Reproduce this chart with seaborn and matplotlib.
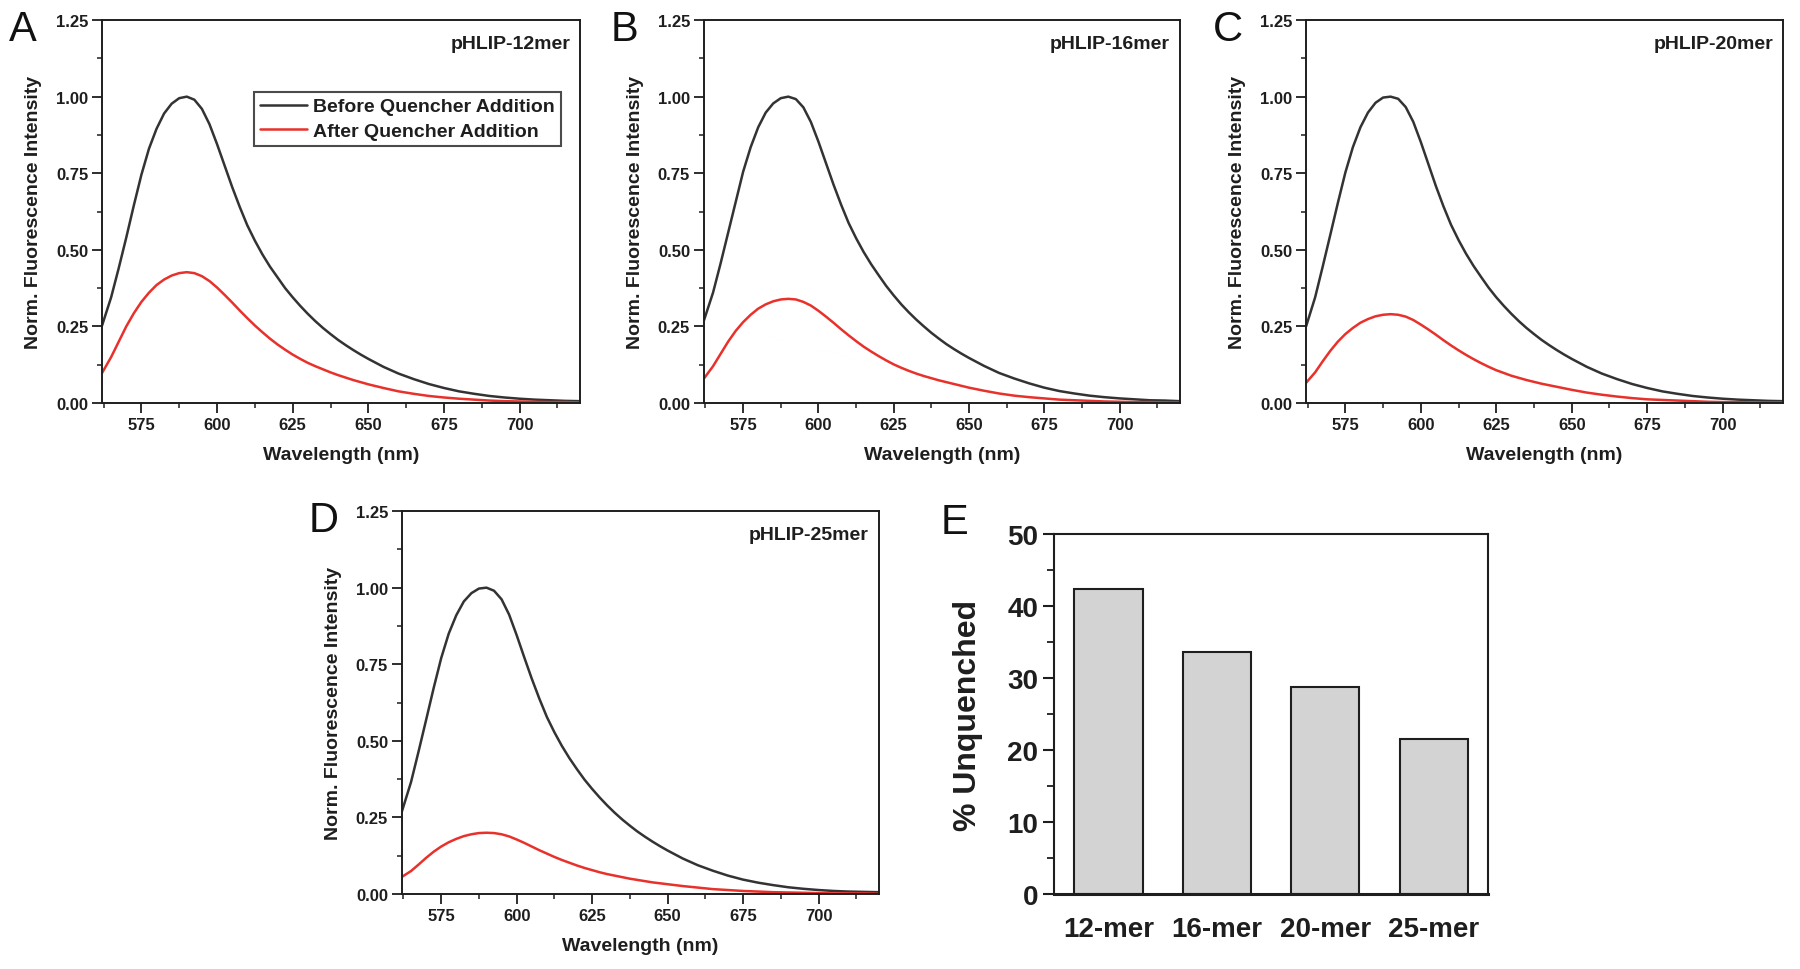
import matplotlib
matplotlib.use("Agg")
import matplotlib.pyplot as plt
import pandas as pd
import seaborn as sns
from matplotlib.ticker import MultipleLocator

wavelength = [562, 565, 567.5, 570, 572.5, 575, 577.5, 580, 582.5, 585, 587.5, 590,
              592.5, 595, 597.5, 600, 602.5, 605, 607.5, 610, 612.5, 615, 617.5, 620,
              622.5, 625, 627.5, 630, 632.5, 635, 637.5, 640, 642.5, 645, 647.5, 650,
              655, 660, 665, 670, 675, 680, 685, 690, 695, 700, 705, 710, 715, 720]

before_12 = [0.253, 0.345, 0.44, 0.54, 0.645, 0.745, 0.83, 0.895, 0.945, 0.977, 0.995, 1.00,
             0.99, 0.96, 0.91, 0.845, 0.775, 0.705, 0.64, 0.58, 0.53, 0.485, 0.445, 0.41,
             0.375, 0.345, 0.317, 0.291, 0.267, 0.245, 0.225, 0.206, 0.189, 0.173, 0.158, 0.144,
             0.118, 0.096, 0.078, 0.062, 0.049, 0.038, 0.03, 0.023, 0.018, 0.014, 0.011, 0.009,
             0.007, 0.006]
after_12 = [0.098, 0.15, 0.2, 0.25, 0.293, 0.33, 0.36, 0.385, 0.403, 0.416, 0.424, 0.427,
            0.424, 0.414, 0.398, 0.377, 0.353, 0.328, 0.302, 0.277, 0.253, 0.231, 0.21, 0.191,
            0.174, 0.158, 0.144, 0.131, 0.12, 0.11, 0.1, 0.091, 0.083, 0.075, 0.068, 0.061,
            0.049, 0.038, 0.03, 0.023, 0.018, 0.014, 0.011, 0.008, 0.006, 0.005, 0.004, 0.003,
            0.003, 0.002]

before_16 = [0.27, 0.36, 0.455, 0.555, 0.655, 0.755, 0.835, 0.9, 0.948, 0.978, 0.995, 1.00,
             0.992, 0.965, 0.917, 0.853, 0.783, 0.713, 0.648, 0.588, 0.538, 0.493, 0.453, 0.417,
             0.382, 0.351, 0.322, 0.296, 0.272, 0.25, 0.229, 0.21, 0.192, 0.176, 0.161, 0.147,
             0.121, 0.098, 0.08, 0.064, 0.05, 0.039, 0.031, 0.024, 0.019, 0.015, 0.012, 0.009,
             0.008, 0.006]
after_16 = [0.08, 0.12, 0.16, 0.2, 0.235, 0.264, 0.288, 0.308, 0.322, 0.332, 0.338, 0.34,
            0.338, 0.33, 0.318, 0.301, 0.282, 0.262, 0.241, 0.221, 0.202, 0.184, 0.168, 0.153,
            0.139, 0.126, 0.115, 0.105, 0.096, 0.088, 0.081, 0.074, 0.068, 0.062, 0.056, 0.05,
            0.04, 0.031, 0.024, 0.019, 0.015, 0.011, 0.009, 0.007, 0.005, 0.004, 0.003, 0.003,
            0.002, 0.002]

before_20 = [0.25, 0.345, 0.445, 0.548, 0.652, 0.752, 0.835, 0.9, 0.948, 0.98, 0.997, 1.00,
             0.993, 0.966, 0.918, 0.852, 0.78, 0.708, 0.642, 0.582, 0.532, 0.487, 0.447, 0.411,
             0.376, 0.345, 0.317, 0.291, 0.267, 0.245, 0.225, 0.206, 0.189, 0.173, 0.158, 0.144,
             0.118, 0.096, 0.078, 0.062, 0.049, 0.038, 0.03, 0.023, 0.018, 0.014, 0.011, 0.009,
             0.007, 0.006]
after_20 = [0.066, 0.1, 0.136, 0.17, 0.2, 0.225, 0.245, 0.262, 0.274, 0.283, 0.288, 0.29,
            0.288, 0.282, 0.271, 0.256, 0.24, 0.223, 0.205, 0.188, 0.172, 0.157, 0.143, 0.13,
            0.118, 0.107, 0.098, 0.089, 0.082, 0.075, 0.069, 0.063, 0.058, 0.053, 0.048, 0.043,
            0.034, 0.027, 0.021, 0.016, 0.012, 0.01, 0.008, 0.006, 0.004, 0.003, 0.003, 0.002,
            0.002, 0.002]

before_25 = [0.27, 0.365, 0.465, 0.568, 0.672, 0.77, 0.85, 0.91, 0.955, 0.982, 0.997, 1.00,
             0.99, 0.962, 0.912, 0.845, 0.773, 0.703, 0.638, 0.578, 0.528, 0.483, 0.443, 0.407,
             0.373, 0.343, 0.315, 0.289, 0.265, 0.243, 0.223, 0.204, 0.187, 0.171, 0.156, 0.142,
             0.116, 0.094, 0.076, 0.06, 0.047, 0.037, 0.029, 0.022, 0.017, 0.013, 0.01, 0.008,
             0.007, 0.006]
after_25 = [0.056, 0.075, 0.096, 0.118, 0.138, 0.155, 0.169, 0.18, 0.189, 0.195, 0.199, 0.20,
            0.199, 0.195, 0.188, 0.178, 0.167, 0.155, 0.143, 0.132, 0.121, 0.111, 0.102, 0.093,
            0.085, 0.078, 0.071, 0.065, 0.06, 0.055, 0.05, 0.046, 0.042, 0.038, 0.035, 0.032,
            0.026, 0.021, 0.016, 0.013, 0.01, 0.008, 0.006, 0.005, 0.004, 0.003, 0.002, 0.002,
            0.002, 0.001]

series_names = ["Before Quencher Addition", "After Quencher Addition"]
panel_titles = ["pHLIP-12mer", "pHLIP-16mer", "pHLIP-20mer", "pHLIP-25mer"]
panel_letters = ["A", "B", "C", "D"]
spectra = [(before_12, after_12), (before_16, after_16), (before_20, after_20), (before_25, after_25)]

mer_labels = ["12-mer", "16-mer", "20-mer", "25-mer"]
pct_unquenched = [42.3, 33.6, 28.7, 21.5]

sns.set_theme(style="ticks")
plt.rcParams["font.family"] = ["Liberation Sans", "DejaVu Sans"]
plt.rcParams["font.weight"] = "bold"

fig = plt.figure(figsize=(18, 9.7), dpi=100)

# axes rectangles (figure fractions) for panels A-D
rects = [
    [0.0567, 0.5835, 0.2656, 0.3948],
    [0.3911, 0.5835, 0.2644, 0.3948],
    [0.7256, 0.5835, 0.2650, 0.3948],
    [0.2233, 0.0773, 0.2650, 0.3948],
]
palette = {series_names[0]: "#333333", series_names[1]: "#e8312b"}
ink = "#1e1e1e"

for i, (rect, (bef, aft)) in enumerate(zip(rects, spectra)):
    ax = fig.add_axes(rect)
    df = pd.DataFrame({
        "wavelength": wavelength * 2,
        "intensity": bef + aft,
        "series": [series_names[0]] * len(wavelength) + [series_names[1]] * len(wavelength),
    })
    sns.lineplot(data=df, x="wavelength", y="intensity", hue="series", palette=palette,
                 linewidth=1.8, ax=ax, legend=(i == 0))
    ax.set_xlim(562, 720)
    ax.set_ylim(0, 1.25)
    ax.xaxis.set_minor_locator(MultipleLocator(12.5))
    ax.yaxis.set_minor_locator(MultipleLocator(0.125))
    ax.set_xticks([575, 600, 625, 650, 675, 700])
    ax.set_yticks([0, 0.25, 0.5, 0.75, 1.0, 1.25])
    ax.set_yticklabels(["0.00", "0.25", "0.50", "0.75", "1.00", "1.25"])
    ax.tick_params(axis="both", which="major", direction="out", length=7, width=1.3,
                   labelsize=12, colors=ink, pad=3)
    ax.tick_params(axis="both", which="minor", direction="out", length=3.5, width=1.1, colors=ink)
    for lab in ax.get_xticklabels() + ax.get_yticklabels():
        lab.set_fontweight("bold")
    for sp in ax.spines.values():
        sp.set_visible(True)
        sp.set_linewidth(1.4)
        sp.set_color(ink)
    ax.set_xlabel("Wavelength (nm)", fontsize=14, fontweight="bold", labelpad=10, color=ink)
    ax.set_ylabel("Norm. Fluorescence Intensity", fontsize=14, fontweight="bold", labelpad=10,
                  color=ink)
    ax.text(0.979, 0.94, panel_titles[i], transform=ax.transAxes, ha="right", va="center",
            fontsize=14, fontweight="bold", color=ink)
    if i == 0:
        leg = ax.legend(loc="upper right", bbox_to_anchor=(0.96, 0.812), borderaxespad=0,
                        frameon=True, fancybox=False, fontsize=14, handlelength=2.4,
                        handletextpad=0.35, borderpad=0.3, labelspacing=0.36, title=None)
        leg.get_frame().set_edgecolor(ink)
        leg.get_frame().set_linewidth(1.5)
        for t in leg.get_texts():
            t.set_fontweight("bold")
            t.set_color(ink)
    fig.text(rect[0] - 0.052, rect[1] + rect[3] - 0.021, panel_letters[i], fontsize=30,
             fontweight="normal", ha="left", va="baseline", color="#111111")

# panel E: bar chart of the unquenched fraction
axE = fig.add_axes([0.5856, 0.0773, 0.2411, 0.3711])
bar_df = pd.DataFrame({"mer": mer_labels, "pct": pct_unquenched})
sns.barplot(data=bar_df, x="mer", y="pct", color="#d3d3d3", edgecolor=ink,
            linewidth=1.5, width=0.63, saturation=1, ax=axE)
axE.set_xlim(-0.5, 3.5)
axE.set_ylim(0, 50)
axE.yaxis.set_major_locator(MultipleLocator(10))
axE.yaxis.set_minor_locator(MultipleLocator(5))
axE.tick_params(axis="y", which="major", direction="out", length=8, width=1.5,
                labelsize=20, colors=ink)
axE.tick_params(axis="y", which="minor", direction="out", length=5, width=1.3, colors=ink)
axE.tick_params(axis="x", which="both", length=0, labelsize=20, pad=16, colors=ink)
for lab in axE.get_xticklabels() + axE.get_yticklabels():
    lab.set_fontweight("bold")
for sp in axE.spines.values():
    sp.set_visible(True)
    sp.set_linewidth(1.5)
    sp.set_color(ink)
axE.spines["bottom"].set_linewidth(2.2)
axE.set_xlabel("")
axE.set_ylabel("% Unquenched", fontsize=23, fontweight="bold", labelpad=17, color=ink)
fig.text(0.5228, 0.4495, "E", fontsize=30, fontweight="normal", ha="left", va="baseline",
         color="#111111")

fig.savefig("out.png", dpi=100)
